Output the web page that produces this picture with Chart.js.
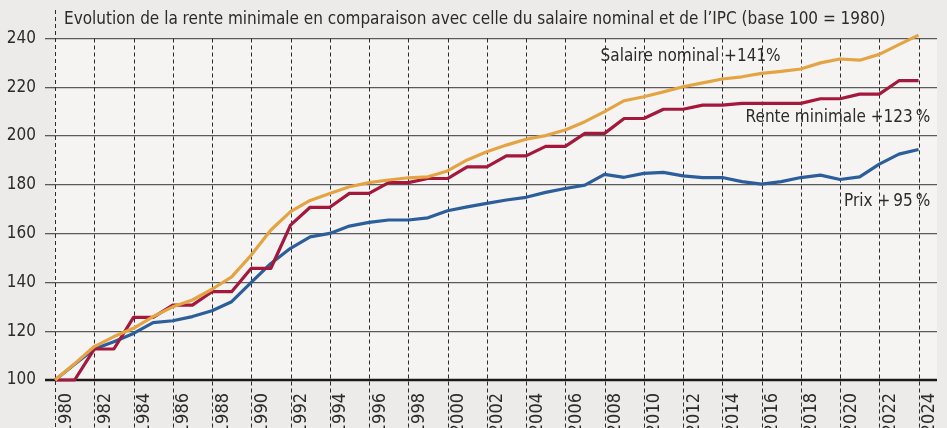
<!DOCTYPE html>
<html>
<head>
<meta charset="utf-8">
<script src="https://cdn.jsdelivr.net/npm/chart.js@4/dist/chart.umd.min.js"></script>
<style>
  html, body { margin: 0; padding: 0; background: #ecebea; }
  #c { display: block; }
</style>
</head>
<body>
<canvas id="c" width="947" height="428"></canvas>
<script>
const years = [];
for (let y = 1980; y <= 2024; y++) years.push(y);

const salaireNominal = [100,106.7,113.7,117.8,121.2,126,130,132.8,137.2,142.3,
  151.2,161.5,169,173.6,176.5,179.2,180.9,182,182.9,183.3,
  185.7,190.2,193.6,196.3,198.7,200.2,202.5,205.9,210,214.5,
  216.1,218.1,220.2,221.8,223.4,224.3,225.7,226.5,227.5,230,
  231.6,231.1,233.5,237.5,241.4];

const renteMinimale = [100,100,112.7,112.7,125.7,125.7,130.7,130.7,136.2,136.2,
  145.8,145.8,163.5,170.8,170.8,176.5,176.5,180.9,180.9,182.6,
  182.6,187.4,187.4,191.9,191.9,195.8,195.8,201.1,201.1,207.2,
  207.2,211,211,212.7,212.7,213.4,213.4,213.4,213.4,215.3,
  215.3,217.2,217.2,222.7,222.7];

const prix = [100,106.5,112.7,115.7,119.1,123.5,124.3,126,128.4,132.1,
  140,147.8,154,158.7,160.1,163.1,164.6,165.6,165.6,166.5,
  169.4,171,172.4,173.8,174.9,176.9,178.5,179.9,184.3,183.1,
  184.7,185.1,183.7,183,183,181.3,180.3,181.3,183,184,
  182.2,183.3,188.5,192.6,194.5];

const yTicks = [100,120,140,160,180,200,220,240];
const xTickYears = [1980,1982,1984,1986,1988,1990,1992,1994,1996,1998,2000,2002,2004,2006,2008,2010,2012,2014,2016,2018,2020,2022,2024];

const titleText = "Evolution de la rente minimale en comparaison avec celle du salaire nominal et de l\u2019IPC (base 100 = 1980)";
const annotations = [
  { text: "Salaire nominal +141%", year: 2007.8, value: 232.4, align: "left" },
  { text: "Rente minimale +123\u2009%", year: 2024.6, value: 207.4, align: "right" },
  { text: "Prix +\u200995\u2009%", year: 2024.6, value: 173, align: "right" }
];

const FONT = '"DejaVu Sans Condensed", "DejaVu Sans", sans-serif';
const TEXT = '#2b2b2b';

const decor = {
  id: 'decor',
  beforeDraw(chart) {
    const { ctx, chartArea: a } = chart;
    ctx.save();
    ctx.fillStyle = '#ecebea';
    ctx.fillRect(0, 0, chart.width, chart.height);
    ctx.fillStyle = '#f5f4f2';
    ctx.fillRect(a.left, a.top, a.right - a.left, a.bottom - a.top);
    ctx.restore();
  },
  beforeDatasetsDraw(chart) {
    const { ctx, chartArea: a, scales } = chart;
    const xs = scales.x;
    ctx.save();
    ctx.strokeStyle = '#2a2a2a';
    ctx.lineWidth = 1;
    ctx.setLineDash([4, 3]);
    xTickYears.forEach((yr, i) => {
      const x = Math.round(xs.getPixelForValue(yr)) + 0.5;
      ctx.beginPath();
      ctx.moveTo(x, i === 0 ? 10 : a.top);
      ctx.lineTo(x, chart.height);
      ctx.stroke();
    });
    ctx.setLineDash([]);
    const yb = scales.y.getPixelForValue(100);
    ctx.strokeStyle = '#1a1a1a';
    ctx.lineWidth = 2.5;
    ctx.beginPath();
    ctx.moveTo(45, yb);
    ctx.lineTo(a.right, yb);
    ctx.stroke();
    ctx.restore();
  },
  afterDraw(chart) {
    const { ctx, chartArea: a, scales } = chart;
    ctx.save();
    ctx.fillStyle = TEXT;
    ctx.font = '17px ' + FONT;
    ctx.textBaseline = 'middle';
    ctx.textAlign = 'left';
    ctx.fillText(titleText, a.left + 9, 20);
    annotations.forEach(an => {
      ctx.textAlign = an.align;
      ctx.fillText(an.text, scales.x.getPixelForValue(an.year), scales.y.getPixelForValue(an.value));
    });
    ctx.restore();
  }
};

const ds = (label, data, color) => ({
  label, data: years.map((y, i) => ({ x: y, y: data[i] })),
  borderColor: color, backgroundColor: color, borderWidth: 3.2,
  pointRadius: 0, tension: 0, fill: false, clip: false,
  borderJoinStyle: 'round', borderCapStyle: 'butt'
});

new Chart(document.getElementById('c'), {
  type: 'line',
  data: {
    datasets: [
      ds('Salaire nominal', salaireNominal, '#e5a444'),
      ds('Rente minimale', renteMinimale, '#a4183c'),
      ds('Prix', prix, '#2b5e9b')
    ]
  },
  options: {
    responsive: false,
    animation: false,
    events: [],
    layout: { padding: { top: 38.5, right: 10, left: 0, bottom: 0 } },
    plugins: { legend: { display: false }, tooltip: { enabled: false }, title: { display: false } },
    scales: {
      x: {
        type: 'linear', min: 1980, max: 2024.94,
        afterBuildTicks(scale) { scale.ticks = xTickYears.map(v => ({ value: v })); },
        afterFit(scale) { scale.height = 48; scale.paddingRight = 0; scale.paddingLeft = 0; },
        grid: { display: false, drawTicks: false },
        border: { display: false },
        ticks: {
          autoSkip: false, minRotation: 90, maxRotation: 90,
          padding: 13, labelOffset: 11,
          color: TEXT, font: { family: FONT, size: 18 },
          callback: v => String(v)
        }
      },
      y: {
        min: 100, max: 240,
        afterBuildTicks(scale) { scale.ticks = yTicks.map(v => ({ value: v })); },
        afterFit(scale) { scale.width = 55; scale.paddingTop = 0; scale.paddingBottom = 0; },
        border: { display: false },
        grid: {
          color: '#5a5a5a', lineWidth: 1.3,
          drawTicks: true, tickLength: 10, tickColor: '#5a5a5a', tickWidth: 1.3
        },
        ticks: {
          padding: 9, color: TEXT, font: { family: FONT, size: 17 },
          callback: v => String(v)
        }
      }
    }
  },
  plugins: [decor]
});
</script>
</body>
</html>
